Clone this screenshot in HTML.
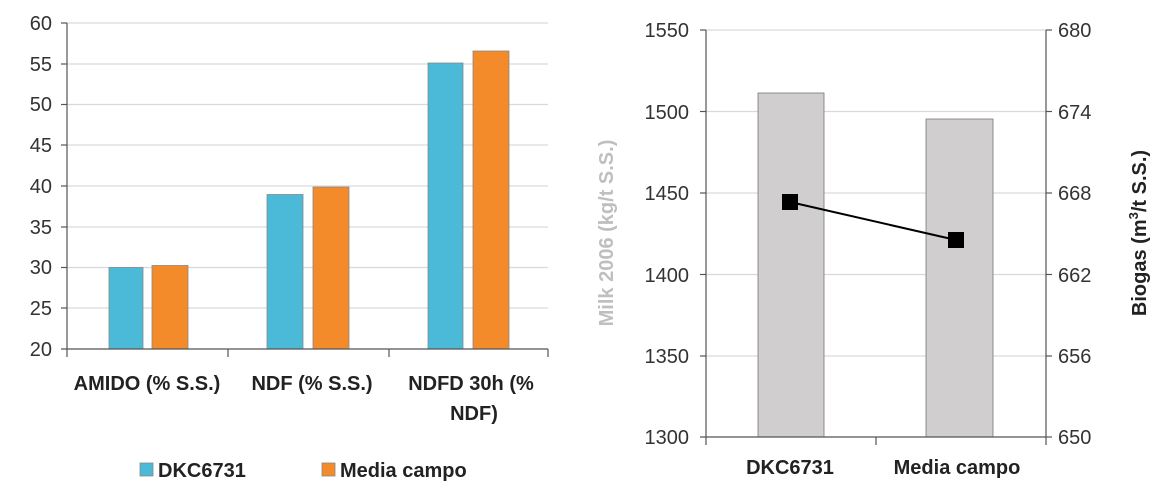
<!DOCTYPE html>
<html><head><meta charset="utf-8"><style>
body{margin:0;background:#fff}
svg{display:block;font-family:"Liberation Sans",sans-serif}
</style></head><body>
<svg width="1160" height="498" viewBox="0 0 1160 498">
<!-- LEFT CHART -->
<g stroke="#d9d9d9" stroke-width="1.3">
<line x1="67" x2="548" y1="23" y2="23"/><line x1="67" x2="548" y1="64" y2="64"/>
<line x1="67" x2="548" y1="104.5" y2="104.5"/><line x1="67" x2="548" y1="145" y2="145"/>
<line x1="67" x2="548" y1="186" y2="186"/><line x1="67" x2="548" y1="227" y2="227"/>
<line x1="67" x2="548" y1="267.5" y2="267.5"/><line x1="67" x2="548" y1="308" y2="308"/>
</g>
<g stroke="#888" stroke-width="0.8">
<rect x="109" y="267.5" width="34" height="81.5" fill="#4bbad8"/>
<rect x="152" y="265.5" width="36" height="83.5" fill="#f38b2a"/>
<rect x="267" y="194.5" width="36" height="154.5" fill="#4bbad8"/>
<rect x="313" y="187" width="36" height="162" fill="#f38b2a"/>
<rect x="428" y="63" width="35" height="286" fill="#4bbad8"/>
<rect x="473" y="51" width="36" height="298" fill="#f38b2a"/>
</g>
<g stroke="#555" stroke-width="1.2" fill="none">
<line x1="67" y1="23" x2="67" y2="357"/>
<line x1="61" y1="349" x2="548" y2="349"/>
<line x1="228" y1="349" x2="228" y2="357"/><line x1="389" y1="349" x2="389" y2="357"/><line x1="548" y1="349" x2="548" y2="357"/>
<line x1="61" y1="23" x2="67" y2="23"/><line x1="61" y1="64" x2="67" y2="64"/><line x1="61" y1="104.5" x2="67" y2="104.5"/><line x1="61" y1="145" x2="67" y2="145"/><line x1="61" y1="186" x2="67" y2="186"/><line x1="61" y1="227" x2="67" y2="227"/><line x1="61" y1="267.5" x2="67" y2="267.5"/><line x1="61" y1="308" x2="67" y2="308"/>
</g>
<g font-size="20" fill="#333" text-anchor="end">
<text x="52" y="30">60</text><text x="52" y="71">55</text><text x="52" y="111">50</text><text x="52" y="152">45</text><text x="52" y="193">40</text><text x="52" y="234">35</text><text x="52" y="274">30</text><text x="52" y="315">25</text><text x="52" y="356">20</text>
</g>
<g font-size="20" font-weight="bold" fill="#222" text-anchor="middle">
<text x="147" y="390">AMIDO (% S.S.)</text>
<text x="312" y="390">NDF (% S.S.)</text>
<text x="471" y="390">NDFD 30h (%</text>
<text x="474" y="420">NDF)</text>
</g>
<rect x="140" y="463" width="13" height="13" fill="#4bbad8" stroke="#888" stroke-width="0.8"/>
<text x="158" y="477" font-size="20" font-weight="bold" fill="#222">DKC6731</text>
<rect x="322" y="463" width="13" height="13" fill="#f38b2a" stroke="#888" stroke-width="0.8"/>
<text x="340" y="477" font-size="20" font-weight="bold" fill="#222">Media campo</text>

<!-- RIGHT CHART -->
<g stroke="#d9d9d9" stroke-width="1.3">
<line x1="706" x2="1046" y1="30" y2="30"/><line x1="706" x2="1046" y1="111.5" y2="111.5"/>
<line x1="706" x2="1046" y1="193" y2="193"/><line x1="706" x2="1046" y1="274.5" y2="274.5"/>
<line x1="706" x2="1046" y1="356" y2="356"/>
</g>
<g stroke="#777" stroke-width="0.8" fill="#d0cece">
<rect x="758" y="93" width="66" height="344"/>
<rect x="926" y="119" width="67" height="318"/>
</g>
<g stroke="#555" stroke-width="1.2" fill="none">
<line x1="706" y1="30" x2="706" y2="445"/>
<line x1="1046" y1="30" x2="1046" y2="445"/>
<line x1="700" y1="437" x2="1046" y2="437"/>
<line x1="876" y1="437" x2="876" y2="445"/>
<line x1="700" y1="30" x2="706" y2="30"/><line x1="700" y1="111.5" x2="706" y2="111.5"/><line x1="700" y1="193" x2="706" y2="193"/><line x1="700" y1="274.5" x2="706" y2="274.5"/><line x1="700" y1="356" x2="706" y2="356"/>
<line x1="1046" y1="30" x2="1052" y2="30"/><line x1="1046" y1="111.5" x2="1052" y2="111.5"/><line x1="1046" y1="193" x2="1052" y2="193"/><line x1="1046" y1="274.5" x2="1052" y2="274.5"/><line x1="1046" y1="356" x2="1052" y2="356"/><line x1="1046" y1="437" x2="1052" y2="437"/>
</g>
<line x1="790" y1="202" x2="956" y2="240" stroke="#000" stroke-width="2"/>
<rect x="782" y="194" width="16" height="16" fill="#000"/>
<rect x="948" y="232" width="16" height="16" fill="#000"/>
<g font-size="20" fill="#333" text-anchor="end">
<text x="689" y="37">1550</text><text x="689" y="119">1500</text><text x="689" y="200">1450</text><text x="689" y="282">1400</text><text x="689" y="363">1350</text><text x="689" y="444">1300</text>
</g>
<g font-size="20" fill="#333" text-anchor="start">
<text x="1058" y="37">680</text><text x="1058" y="119">674</text><text x="1058" y="200">668</text><text x="1058" y="282">662</text><text x="1058" y="363">656</text><text x="1058" y="444">650</text>
</g>
<text transform="translate(613,233) rotate(-90)" text-anchor="middle" font-size="20" font-weight="bold" fill="#bfbfbf">Milk 2006 (kg/t S.S.)</text>
<text transform="translate(1146,233) rotate(-90)" text-anchor="middle" font-size="20" font-weight="bold" fill="#222">Biogas (m<tspan font-size="13" dy="-8">3</tspan><tspan dy="8">/t S.S.)</tspan></text>
<g font-size="20" font-weight="bold" fill="#222" text-anchor="middle">
<text x="790" y="474">DKC6731</text>
<text x="957" y="474">Media campo</text>
</g>
</svg>
</body></html>
